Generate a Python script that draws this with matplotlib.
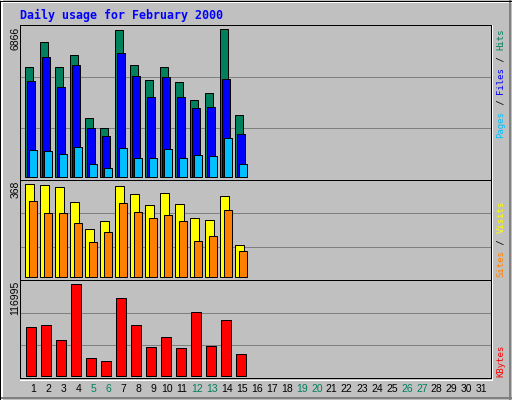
import numpy as np
import matplotlib
matplotlib.use("Agg")
import matplotlib.pyplot as plt

# daily values (days 1..15 of February 2000)
days = np.arange(1, 16)
hits = [5096, 6260, 5096, 5655, 2720, 2301, 6819, 5189, 4490, 5096, 4397, 3559, 3885, 6866, 2860]
files = [4458, 5562, 4164, 5189, 2301, 1928, 5748, 4677, 3698, 4630, 3698, 3186, 3233, 4537, 2022]
pages = [1276, 1230, 1090, 1416, 624, 438, 1369, 904, 904, 1323, 904, 1043, 997, 1835, 624]
visits = [368, 364, 356, 296, 189, 221, 360, 328, 284, 332, 288, 233, 225, 320, 129]
sites = [300, 256, 256, 213, 137, 177, 292, 260, 233, 245, 221, 141, 161, 264, 105]
kbytes = [61952, 64512, 45313, 116995, 23552, 19712, 99075, 64512, 37633, 49153, 36353, 81154, 38913, 70914, 28673]

all_days = list(range(1, 32))
weekends = [5, 6, 12, 13, 19, 20, 26, 27]

BG = "#C0C0C0"
C_HITS = "#00805C"
C_FILES = "#0000FF"
C_PAGES = "#00C0FF"
C_VISITS = "#FFFF00"
C_SITES = "#FF8000"
C_KB = "#FF0000"
PX = 0.72  # one pixel in points at dpi 100

W, H = 512, 400
fig = plt.figure(figsize=(W / 100, H / 100), dpi=100, facecolor=BG)

# background axes in pixel coordinates (y down)
bg = fig.add_axes([0, 0, 1, 1])
bg.set_xlim(0, W)
bg.set_ylim(H, 0)
bg.axis("off")

# bevelled outer border
bg.plot([0, W], [1.5, 1.5], color="white", lw=2 * PX)
bg.plot([1.5, 1.5], [0, H], color="white", lw=2 * PX)
bg.plot([0, W], [H - 2.5, H - 2.5], color="#808080", lw=2 * PX)
bg.plot([W - 2.5, W - 2.5], [0, H], color="#808080", lw=2 * PX)
bg.plot([0, W, W, 0, 0], [0.5, 0.5, H - 0.5, H - 0.5, 0.5], color="black", lw=PX)
# white bevel under / right of graph area
bg.plot([20, 492], [379.5, 379.5], color="white", lw=PX)
bg.plot([492, 492], [25, 379.5], color="white", lw=PX)

bg.text(20, 15, "Daily usage for February 2000", color="#0000FF", fontsize=8.4,
        family="DejaVu Sans Mono", fontweight="bold", ha="left", va="center")

# panels: top, bottom, baseline, pixel row of max value
panels = [(25, 180, 177, 29.3), (180, 280, 277, 184.3), (280, 378, 376, 284.3)]
maxima = [max(hits), max(visits), max(kbytes)]
axes = []
for (top, bot, base, mtop), vmax in zip(panels, maxima):
    ax = fig.add_axes([20 / W, (H - bot) / H, 471 / W, (bot - top) / H])
    ax.set_facecolor(BG)
    ax.set_xlim(0, 471)
    scale = vmax / (base - mtop)
    ax.set_ylim(-(bot - base) * scale, (base - top) * scale)
    ax.set_xticks([])
    ax.set_yticks([])
    for s in ax.spines.values():
        s.set_color("black")
        s.set_linewidth(PX)
    for f in (1 / 3, 2 / 3):
        ax.plot([0, 1], [f, f], transform=ax.transAxes, color="#808080", lw=PX, zorder=0)
    axes.append(ax)

x0 = (days - 1) * 15
ax1, ax2, ax3 = axes
ax1.bar(x0 + 5.3, hits, width=7.3, align="edge", color=C_HITS, edgecolor="black", lw=PX, zorder=2)
ax1.bar(x0 + 7.0, files, width=7.7, align="edge", color=C_FILES, edgecolor="black", lw=PX, zorder=3)
ax1.bar(x0 + 9.0, pages, width=7.7, align="edge", color=C_PAGES, edgecolor="black", lw=PX, zorder=4)
ax2.bar(x0 + 5.3, visits, width=8.4, align="edge", color=C_VISITS, edgecolor="black", lw=PX, zorder=2)
ax2.bar(x0 + 9.3, sites, width=7.4, align="edge", color=C_SITES, edgecolor="black", lw=PX, zorder=3)
ax3.bar(x0 + 6.3, kbytes, width=10, align="edge", color=C_KB, edgecolor="black", lw=PX, zorder=2)

# maximum value labels on the left
lab_font = dict(family="Liberation Sans", fontsize=7.5, rotation=90, ha="center", va="top")
bg.text(15.5, 27, str(max(hits)), color="black", **lab_font)
bg.text(15.5, 181, str(max(visits)), color="black", **lab_font)
bg.text(15.5, 281, str(max(kbytes)), color="black", **lab_font)

# day labels
for d in all_days:
    col = C_HITS if d in weekends else "black"
    xc = 33.3 + 15 * (d - 1) - (1.5 if d >= 10 else 0)
    bg.text(xc, 389.5, str(d), color=col, family="Liberation Sans", fontsize=7.5,
            ha="center", va="center")

# legends on the right, built from coloured pieces
cw = 5.45


def legend(y_start, pieces):
    pos = 0
    for txt, col in pieces:
        bg.text(501, y_start - pos * cw, txt, color=col, family="DejaVu Sans Mono",
                fontsize=6.5, rotation=90, ha="center", va="bottom")
        pos += len(txt)


legend(137.5, [("Pages", C_PAGES), (" / ", "black"), ("Files", C_FILES),
               (" / ", "black"), ("Hits", C_HITS)])
legend(277, [("Sites", C_SITES), (" / ", "black"), ("Visits", C_VISITS)])
legend(377, [("KBytes", C_KB)])

fig.savefig("out.png", dpi=100, facecolor=BG)
